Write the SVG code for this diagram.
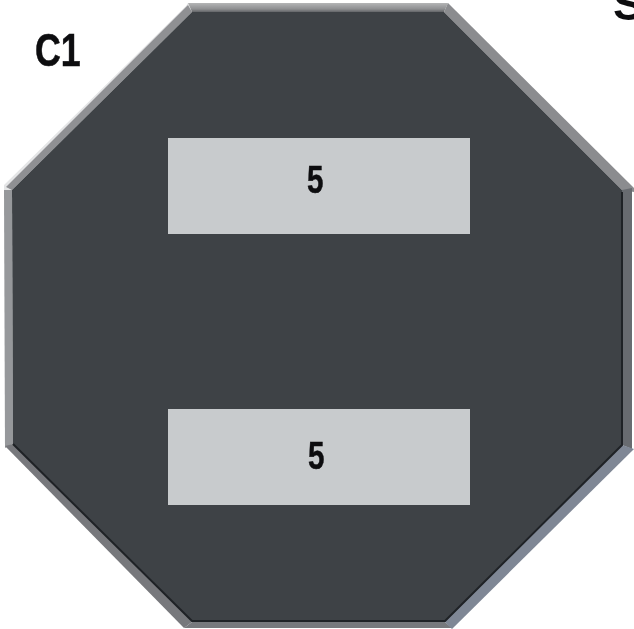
<svg xmlns="http://www.w3.org/2000/svg" width="634" height="629" viewBox="0 0 634 629">
<style>
.lbl{font-family:"Liberation Sans",Arial,sans-serif;fill:#0d0d0f;filter:url(#soft)}
.b{font-weight:bold}
.pad{fill:#c8cbcd}
</style>
<defs>
<filter id="soft" x="-5%" y="-5%" width="110%" height="110%" color-interpolation-filters="sRGB"><feGaussianBlur stdDeviation="0.5"/></filter>
<linearGradient id="top" x1="0" y1="3" x2="0" y2="13" gradientUnits="userSpaceOnUse">
<stop offset="0" stop-color="#b4b5b6"/><stop offset="0.6" stop-color="#8e8f91"/><stop offset="1" stop-color="#55575b"/>
</linearGradient>
</defs>
<rect width="634" height="629" fill="#ffffff"/>
<g id="chip" filter="url(#soft)">
<polygon points="186,6 188,3 192,12 12,190 4,190 4,185" fill="#e4e5e6"/>
<polygon points="188,5 192,12 12,190 6,187" fill="#8f9093"/>
<polygon points="188,3 448,3 444,12 192,12" fill="url(#top)"/>
<polygon points="448,3 634,188 634,192 622,190 444,12" fill="#8b8c8f"/>
<polygon points="632,188 632,449 622,445 622,190" fill="#686b70"/>
<polygon points="4,190 12,190 13,444 5,448" fill="#96989b"/>
<polygon points="5,446 13,444 192,622 184,628" fill="#77787c"/>
<polygon points="184,628 192,622 445,622 452,628" fill="#77797d"/>
<polygon points="634,449 622,445 445,622 452,629" fill="#7f8795"/>
<polygon points="192,12 444,12 622,190 622,445 445,622 192,622 13,444 12,190" fill="#3e4246"/>
<polyline points="622,192 622,445 445,621 192,621 13,444" fill="none" stroke="#1f2226" stroke-width="2"/>
</g>
<g id="pad-top">
<rect class="pad" x="168" y="138" width="302" height="96"/>
<text class="lbl b" transform="translate(307,193) scale(0.76,1)" font-size="39" stroke="#0d0d0f" stroke-width="0.5">5</text>
</g>
<g id="pad-bottom">
<rect class="pad" x="168" y="409" width="302" height="96"/>
<text class="lbl b" transform="translate(308,469) scale(0.76,1)" font-size="39" stroke="#0d0d0f" stroke-width="0.5">5</text>
</g>
<text id="label-c1" class="lbl b" transform="translate(35,66) scale(0.76,1)" font-size="47" stroke="#0d0d0f" stroke-width="0.6">C1</text>
<text id="label-s" class="lbl b" x="613" y="20" font-size="46">S</text>
</svg>
